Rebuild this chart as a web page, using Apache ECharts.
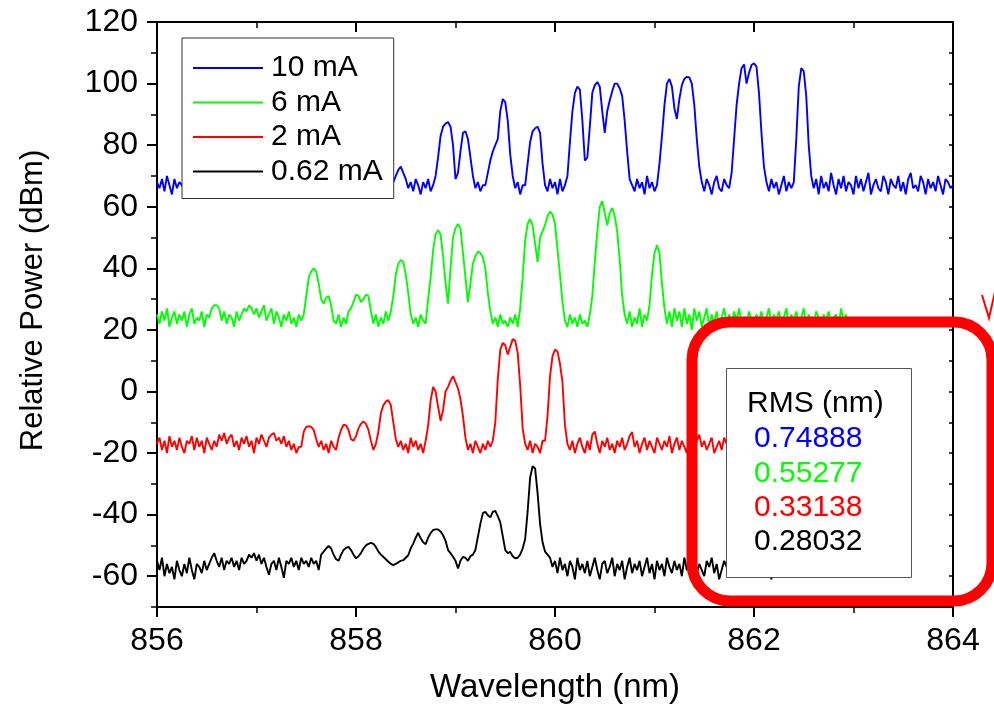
<!DOCTYPE html>
<html>
<head>
<meta charset="utf-8">
<script src="https://cdn.jsdelivr.net/npm/echarts@6/dist/echarts.min.js"></script>
<style>
html,body{margin:0;padding:0;background:#fff;}
#chart{width:994px;height:710px;}
</style>
</head>
<body>
<div id="chart"></div>
<script>
// sampling grid of the spectra (nm)
const X_START = 856;
const X_STEP = 0.025;

// axis ticks
const xTicks = [856, 858, 860, 862, 864];
const yMajorTicks = [-60, -40, -20, 0, 20, 40, 60, 80, 100, 120];
const yMinorTicks = [-70, -50, -30, -10, 10, 30, 50, 70, 90, 110];

// legend names
const seriesNames = ['10 mA', '6 mA', '2 mA', '0.62 mA'];

// RMS values (nm)
const rmsTitle = 'RMS (nm)';
const rmsValues = ['0.74888', '0.55277', '0.33138', '0.28032'];

// relative power (dBm), 10 mA
const blue10mA = [
68,66,69,65,70,67,64,69,66,68,
67,65,69,68,64,70,66,68,65,69,
67,64,68,70,66,65,69,67,64,68,
69,66,68,65,70,67,64,69,66,68,
65,69,67,66,70,64,68,66,69,65,
68,67,64,70,66,69,65,68,67,64,
69,66,68,70,65,67,69,64,68,66,
70,65,68,67,64,69,66,68,65,70,
67,64,69,66,68,65,70,67,66,69,
65,68,67,64,70,68,70,72,73,71,
69,66,68,65,69,67,64,68,66,69,
65,67,70,76,83,86,87,87.5,86,80,
69,71,78,84,84.5,82,76,70,66,68,
65,67,67,71,75,78,80,82,91,95,
94,88,77,70,66,68,64,67,67,74,
81,84.5,85.5,86,84,74,67,65,69,66,
68,64,69,65,67,70,81,91,97,99,
98,88,75,76,86,97,99.5,100.5,99,91,
84,91,94.5,97.5,100,100,98.5,96,88,78,
69,67,65,69,66,68,64,70,66,68,
65,67,74,83,93,100,101.5,99,92,88.5,
95,99.5,101.5,102.2,102,100,93,82,73,68,
65,69,67,64,68,70,66,65,69,67,
66,71,82,93,100,105,106.2,100,103.5,106,
106.6,105.5,97,84,73,68,65,69,66,68,
64,67,70,65,68,66,68,82,99,105,
104,96,80,70,66,69,64,70,66,68,
65,71,67,64,69,66,70,65,68,67,
64,70,66,69,65,68,71,64,67,69,
66,65,70,68,64,69,67,66,70,65,
68,64,69,71,66,67,65,70,68,64,
69,66,68,65,70,67,64,69,68,66,
67
];

// relative power (dBm), 6 mA
const green6mA = [
25,22,26,23,27,21,24,26,22,25,
23,26,21,25,27,22,24,23,26,21,
25,24,27,28,28,27,23,26,22,25,
24,21,26,23,25,27,26,28,27,25,
27,24,26,28,23,25,27,22,26,24,
21,25,23,26,22,24,21,25,23,25,
31,37,39,40,39,35,30,28.5,30.5,31,
28,23,22,25,21,24,22,26,27,29,
31.5,31,29,30,31.5,31,26,22,25,21,
24,22,26,23,26,31,38,41.5,42.7,42,
38,32,25,22,24,21,25,23,22,30,
37,46,51,52.4,51,44,35,28.5,40,50,
53,54.4,53,45,37,29,35,41.5,44,45.4,
45,43.5,40,32,26,22,24,21,25,22,
23,21,24,22,25,21,27,37,49,54.5,
56,54,48,42,50,52,54,57,58.4,57.5,
54.5,46,38,29,23,21,25,22,24,21,
25,22,23,21,25,31,42,52,60,61.8,
58,54,58,59.6,57,52,43,31,25,22,
26,21,24,22,27,21,25,23,28,38,
45,47.5,45,35,27,22,26,21,27,23,
26,21,27,22,25,20,27,23,26,21,
24,27,21,25,22,26,21,24,27,22,
25,21,26,23,27,22,24,21,26,23,
22,25,23,26,21,24,27,22,25,23,
26,22,24,27,21,25,23,26,22,24,
27,21,25,23,22,26,24,21,25,23,
26,22,24,25,21,27,23,25,22,24
];

// relative power (dBm), 2 mA
const red2mA = [
-17,-15,-19,-16,-20,-14.5,-18,-16,-19,-15,
-18,-20,-16,-17,-14.5,-19,-15,-18,-16,-20,
-15,-17,-19,-16,-18,-14,-16,-13.5,-17,-15,
-14,-18,-16,-19,-15,-17,-14.5,-18,-16,-20,
-15,-17,-14,-16,-18,-15,-14,-13.5,-16,-15,
-17,-14.5,-18,-16,-19,-17,-20,-18,-18,-13,
-11.5,-11.3,-11.5,-12.5,-15.5,-18,-16,-19,-17,-20,
-16,-18,-19,-15,-12.5,-10.8,-11,-12.5,-15.5,-16,
-14.5,-12,-10.5,-9.7,-10.5,-12.5,-16,-19,-17,-13,
-7,-4.5,-3.3,-2.8,-4.5,-10,-15.5,-18,-16,-19,
-17,-20,-15,-18,-16,-19,-17,-20,-16,-11,
-3,1.5,0,-5,-9.5,-6,0,1.5,3.5,5,
3,1,-2.5,-8,-15,-19,-17,-20,-16,-18,
-20,-17,-19,-16,-18,-16,-10,4,13.5,15.8,
15,12,14.5,17,16.5,12.5,2,-12,-17,-19,
-16,-20,-17,-18,-20,-16,-16,-8,5,11.5,
13.6,13,9,3,-11,-17,-19,-16,-20,-17,
-15,-18,-20,-16,-19,-14,-13,-17,-20,-16,
-18,-15,-19,-17,-20,-16,-18,-15,-19,-17,
-14.5,-13.2,-18,-16,-20,-17,-15,-19,-16,-18,
-20,-15,-17,-19,-16,-18,-14.5,-20,-17,-15,
-19,-16,-18,-20,-15,-17,-19,-16,-14,-18,
-16,-19,-17,-15,-20,-18,-16,-19,-15,-17,
-20,-16,-18,-15,-19,-17,-20,-16,-18,-15,
-17,-19,-16,-20,-18,-15,-17,-19,-16,-18,
-20,-16,-18,-15,-19,-17,-16,-20,-18,-15,
-17,-19,-16,-18,-20,-15,-17,-19,-16,-18,
-15,-19,-17,-20,-16,-18,-15,-19,-17,-18
];

// relative power (dBm), 0.62 mA
const black062mA = [
-55,-58,-54,-60,-56,-59,-57,-61,-55,-58,
-60,-56,-59,-54,-58,-61,-56,-57,-59,-55,
-58,-56,-54,-52.5,-55,-57,-54,-58,-55,-56,
-54,-57,-55,-58,-54,-56,-55,-53,-54,-52.5,
-55,-53,-56,-54,-57,-59.5,-56,-55,-58,-54,
-57,-60.5,-55,-56,-54,-57,-55,-58,-54,-56,
-55,-57,-54,-56,-55,-58,-53,-52,-51,-50.2,
-51,-53,-54.5,-55,-53,-51.5,-50.8,-50.5,-51.5,-53,
-54.2,-53.5,-52.5,-51,-50,-49.5,-49.2,-49.5,-50.5,-52,
-53,-53.7,-54.5,-55.3,-56,-56.4,-56,-55.5,-55,-54.8,
-54,-53.2,-51,-49.4,-47.5,-45.9,-47.7,-49,-49.6,-47.5,
-46,-45,-44.8,-44.8,-45.5,-46.7,-48.5,-51.5,-52.5,-53.7,
-55,-57.5,-55,-53.7,-54,-55,-53.5,-53,-51.5,-47.2,
-43,-39.5,-39.1,-40.2,-40.9,-39.1,-38.8,-40.5,-42.5,-47,
-51.5,-52.5,-52.1,-53.5,-54.2,-54,-53,-51,-48,-39,
-28,-24.3,-25,-33,-43,-49,-52,-53,-54,-57,
-55,-59,-54,-58,-56,-60,-55,-57,-61,-54,
-58,-56,-59,-55,-60,-57,-54,-58,-61,-56,
-55,-59,-57,-54,-60,-56,-58,-55,-61,-57,
-54,-59,-56,-58,-55,-60,-57,-54,-59,-56,
-61,-55,-58,-56,-60,-54,-57,-59,-55,-58,
-56,-60,-54,-58,-57,-61,-55,-59,-56,-58,
-60,-55,-57,-54,-59,-56,-61,-58,-55,-57,
-59,-54,-58,-56,-60,-57,-55,-59,-56,-58,
-55,-60,-57,-54,-59,-56,-58,-61,-55,-57,
-58,-56,-60,-54,-57,-59,-55,-58,-56,-60,
-57,-55,-59,-56,-58,-54,-60,-57,-55,-59,
-56,-58,-55,-60,-57,-54,-59,-56,-58,-57
];

const seriesValues = [blue10mA, green6mA, red2mA, black062mA];
const seriesColors = ['#0000ff', '#00ff00', '#ff0000', '#000000'];
const rmsColors = ['#0000ff', '#00ff00', '#ff0000', '#000000'];

function toPairs(vals) {
  return vals.map((v, i) => [+(X_START + i * X_STEP).toFixed(3), v]);
}

const FONT = '"Liberation Sans", Arial, Helvetica, sans-serif';
const axisLineStyle = { color: '#000', width: 2 };

const chart = echarts.init(document.getElementById('chart'), null, { renderer: 'canvas' });

const option = {
  animation: false,
  backgroundColor: '#fff',
  textStyle: { fontFamily: FONT, color: '#000' },
  grid: { left: 157, top: 22, right: 41, bottom: 103, containLabel: false },
  legend: {
    data: seriesNames,
    orient: 'vertical',
    left: 182,
    top: 38,
    padding: [15, 11, 12, 11],
    itemGap: 4.5,
    itemWidth: 70,
    itemHeight: 2,
    icon: 'rect',
    borderColor: '#333',
    borderWidth: 1,
    backgroundColor: '#fff',
    textStyle: { fontFamily: FONT, fontSize: 30, color: '#000', lineHeight: 30, padding: [0, 0, 0, 3] }
  },
  xAxis: [
    {
      type: 'value', position: 'bottom', min: xTicks[0], max: xTicks[xTicks.length - 1], interval: 2,
      name: 'Wavelength (nm)', nameLocation: 'middle', nameGap: 64,
      nameTextStyle: { fontFamily: FONT, fontSize: 33, color: '#000' },
      axisLine: { show: true, onZero: false, lineStyle: axisLineStyle },
      axisTick: { show: true, inside: false, length: 10, lineStyle: { color: '#000', width: 2 } },
      minorTick: { show: true, splitNumber: 2, length: 6, lineStyle: { color: '#000', width: 1.5 } },
      axisLabel: { show: true, fontFamily: FONT, fontSize: 32, color: '#000', margin: 18 },
      splitLine: { show: false }
    },
    {
      type: 'value', position: 'top', min: xTicks[0], max: xTicks[xTicks.length - 1], interval: 2,
      axisLine: { show: true, onZero: false, lineStyle: axisLineStyle },
      axisTick: { show: true, inside: true, length: 10, lineStyle: { color: '#000', width: 2 } },
      minorTick: { show: true, splitNumber: 2, length: 6, lineStyle: { color: '#000', width: 1.5 } },
      axisLabel: { show: false },
      splitLine: { show: false }
    }
  ],
  yAxis: [
    {
      type: 'value', position: 'left', min: -70, max: 120,
      name: 'Relative Power (dBm)', nameLocation: 'middle', nameGap: 108, nameRotate: 90,
      nameTextStyle: { fontFamily: FONT, fontSize: 31, color: '#000', padding: [0, 0, 0, 28] },
      axisLine: { show: true, onZero: false, lineStyle: axisLineStyle },
      axisTick: { show: true, inside: false, length: 10, customValues: yMajorTicks, lineStyle: { color: '#000', width: 2 } },
      axisLabel: { show: true, customValues: yMajorTicks, fontFamily: FONT, fontSize: 32, color: '#000', margin: 19 },
      splitLine: { show: false }
    },
    {
      type: 'value', position: 'left', min: -70, max: 120,
      axisLine: { show: false },
      axisTick: { show: true, inside: false, length: 6, customValues: yMinorTicks, lineStyle: { color: '#000', width: 1.5 } },
      axisLabel: { show: false },
      splitLine: { show: false }
    },
    {
      type: 'value', position: 'right', min: -70, max: 120, interval: 10,
      axisLine: { show: true, onZero: false, lineStyle: axisLineStyle },
      axisTick: { show: true, inside: true, length: 4, lineStyle: { color: '#000', width: 1.5 } },
      axisLabel: { show: false },
      splitLine: { show: false }
    }
  ],
  series: seriesNames.map((name, k) => ({
    name: name,
    type: 'line',
    xAxisIndex: 0,
    yAxisIndex: 0,
    showSymbol: false,
    symbol: 'none',
    smooth: false,
    color: seriesColors[k],
    lineStyle: { color: seriesColors[k], width: 1.9 },
    data: toPairs(seriesValues[k])
  })),
  graphic: [
    {
      type: 'rect', z: 100,
      shape: { x: 726.5, y: 368.5, width: 185, height: 209 },
      style: { fill: '#fff', stroke: '#555', lineWidth: 1 }
    },
    {
      type: 'text', z: 101, x: 747, y: 404,
      style: { text: rmsTitle, fill: '#000', font: '30px ' + FONT, align: 'left', verticalAlign: 'middle' }
    }
  ].concat(rmsValues.map((v, k) => ({
    type: 'text', z: 101, x: 754, y: 439 + k * 34.3,
    style: { text: v, fill: rmsColors[k], font: '30px ' + FONT, align: 'left', verticalAlign: 'middle' }
  }))).concat([
    {
      type: 'rect', z: 102,
      shape: { x: 692, y: 322, width: 300, height: 279, r: 38 },
      style: { fill: 'none', stroke: '#ff0000', lineWidth: 11 }
    },
    {
      type: 'polyline', z: 102,
      shape: { points: [[982, 295], [989, 318], [997, 283]] },
      style: { fill: 'none', stroke: '#ff0000', lineWidth: 2 }
    }
  ])
};

chart.setOption(option);
</script>
</body>
</html>
